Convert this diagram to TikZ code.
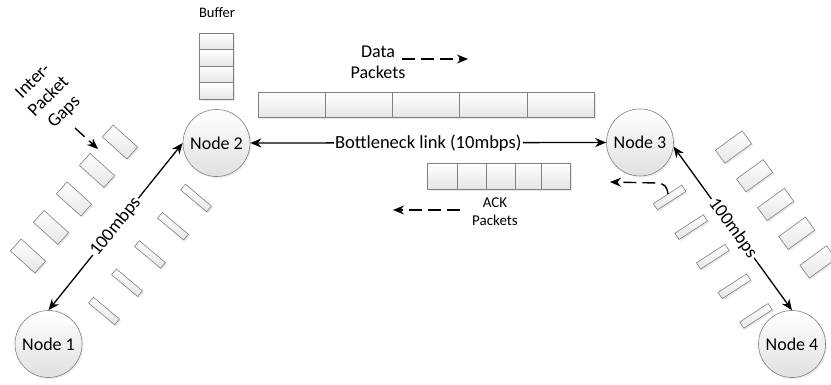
\documentclass[tikz,border=0pt]{standalone}
\usepackage{fontspec}
\setmainfont{Carlito}
\usetikzlibrary{arrows.meta,shadows}
\begin{document}
\begin{tikzpicture}[x=1pt,y=-1pt,
  pkt/.style={draw=black!50, line width=0.6pt, top color=white, bottom color=black!10,
    inner sep=0pt, drop shadow={shadow xshift=1.5pt,shadow yshift=-1.5pt,opacity=0.18}},
  bigpkt/.style={pkt, minimum width=33pt, minimum height=16pt},
  thinpkt/.style={pkt, minimum width=34pt, minimum height=7.5pt},
  nd/.style={circle, draw=black!50, line width=0.6pt, minimum size=67pt, inner sep=0pt,
    top color=white, bottom color=black!12, font=\fontsize{18}{21}\selectfont,
    drop shadow={shadow xshift=1.5pt,shadow yshift=-1.5pt,opacity=0.15}},
  tip/.tip={Stealth[length=11pt,width=9pt]},
  lnk/.style={line width=1.3pt, tip-tip},
  dsh/.style={line width=1.4pt, dash pattern=on 13pt off 6pt, -tip},
  lbl/.style={fill=white, inner sep=1.5pt, font=\fontsize{18.5}{21}\selectfont},
  txtbig/.style={font=\fontsize{18}{21}\selectfont, align=center},
  txtsmall/.style={font=\fontsize{15}{18}\selectfont, align=center}
]
\useasboundingbox (0,0) rectangle (831,384);

% packets on left link
\foreach \i in {0,...,4} {
  \node[bigpkt, rotate=-42] (lo\i) at ({120-23*\i},{142+28.5*\i}) {};
  \node[thinpkt, rotate=-40] (li\i) at ({196-23*\i},{198+28.25*\i}) {};
}
% packets on right link
\foreach \i in {0,...,4} {
  \node[bigpkt, rotate=36] (ro\i) at ({733.5+21.1*\i},{147+28.75*\i}) {};
  \node[thinpkt, rotate=33] (ri\i) at ({669.6+21.6*\i},{197.5+29.6*\i}) {};
}

% buffer
\node[font=\fontsize{14.5}{17}\selectfont] (buflbl) at (217,13) {Buffer};
\foreach \i in {1,...,4} {
  \node[pkt, minimum width=34pt, minimum height=16.5pt] (buf\i) at (216,{33+16.5*(\i-0.5)}) {};
}

% data packets
\foreach \i in {1,...,5} {
  \node[pkt, minimum width=67.2pt, minimum height=25pt] (dp\i) at ({258+67.2*(\i-0.5)},104.5) {};
}

% ack packets
\node[pkt, minimum width=30pt, minimum height=26pt] (ap1) at (442,176) {};
\node[pkt, minimum width=29pt, minimum height=26pt] (ap2) at (471.5,176) {};
\node[pkt, minimum width=29pt, minimum height=26pt] (ap3) at (500.5,176) {};
\node[pkt, minimum width=26pt, minimum height=26pt] (ap4) at (528,176) {};
\node[pkt, minimum width=29pt, minimum height=26pt] (ap5) at (555.5,176) {};

% nodes
\node[nd] (n1) at (48.5,344) {Node 1};
\node[nd] (n2) at (216.5,143) {Node 2};
\node[nd] (n3) at (640,142.5) {Node 3};
\node[nd] (n4) at (792,344) {Node 4};

% links
\draw[lnk] (n1.north) -- node[lbl, sloped, midway] (l12) {100mbps} (n2.west);
\draw[lnk] (n2.east) -- node[lbl, midway] (l23) {Bottleneck link (10mbps)} (n3.west);
\draw[lnk] (n3.-7) -- node[lbl, sloped, midway] (l34) {100mbps} (n4.north);

% labels
\node[txtbig] (datalbl) at (378,62.5) {Data\\Packets};
\coordinate (da1) at (402,59);
\coordinate (da2) at (468,59);
\draw[dsh] (da1) -- (da2);

\node[txtsmall] (acklbl) at (495,212) {ACK\\Packets};
\coordinate (aa1) at (460,210);
\coordinate (aa2) at (393,210);
\draw[dsh] (aa1) -- (aa2);

\node[font=\fontsize{18.5}{22}\selectfont, align=center, rotate=45] (gaps) at (49,97) {Inter-\\Packet\\Gaps};
\coordinate (ga1) at (75,128);
\coordinate (ga2) at (98,149);
\draw[dsh] (ga1) -- (ga2);

\coordinate (c1) at (668,194);
\coordinate (c2) at (610,182);
\draw[dsh] (c1) .. controls (667,186) and (664,183.5) .. (657,183) -- (c2);
\end{tikzpicture}
\end{document}
